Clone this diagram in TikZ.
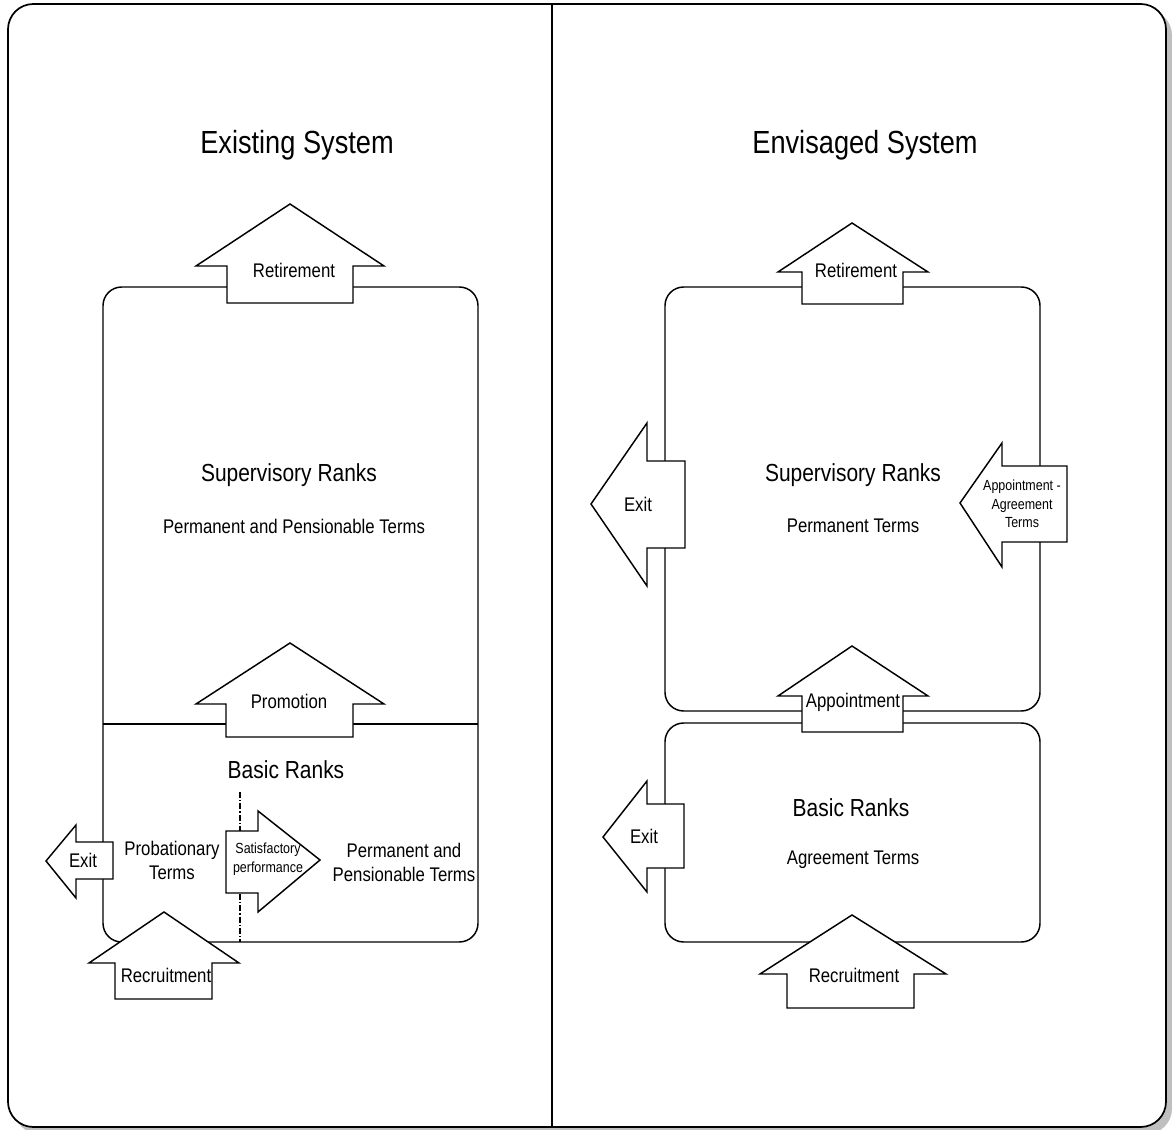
\documentclass[tikz,border=0pt]{standalone}
\usepackage{fontspec}
\setmainfont[FakeStretch=0.85]{Liberation Sans}
\usetikzlibrary{positioning}
\tikzset{frame/.style = {line width=1.3pt, rounded corners=19pt}}
\tikzset{ranks/.style = {line width=1.1pt, rounded corners=14pt}}
\tikzset{blockarr/.style = {draw, fill=white, line width=1.1pt, line join=miter}}
\tikzset{title/.style = {font=\fontsize{24}{29}\selectfont}}
\tikzset{big/.style = {font=\fontsize{18.5}{22}\selectfont}}
\tikzset{lbl/.style = {font=\fontsize{14.8}{18}\selectfont, align=center}}
\tikzset{small/.style = {font=\fontsize{11}{13.9}\selectfont, align=center}}
\definecolor{shadowgray}{rgb}{0.75, 0.75, 0.75}

\begin{document}
\begin{tikzpicture}[x=0.75pt, y=-0.75pt]
      \useasboundingbox (0,0) rectangle (1172,1130);

      % frame
      \fill [shadowgray, rounded corners=19pt] (14,10) rectangle (1172,1134);
      \draw [frame, fill=white] (8,4) rectangle (1166,1127);
      \draw [line width=1.3pt] (552,4) -- (552,1127);

      \node [title] (existing) at (297,145) {Existing System};
      \node [title] (envisaged) at (865,145) {Envisaged System};

      % existing system
      \draw [ranks] (103,287) rectangle (478,942);
      \draw [line width=1.1pt] (103,724) -- (478,724);
      \draw [line width=1pt, dash pattern=on 4.5pt off 1.5pt on 1pt off 1.5pt] (240,792) -- (240,942);

      \draw [blockarr] (290,204) -- (384,266) -- (353,266) -- (353,303) -- (227,303) -- (227,266) -- (196,266) -- cycle;
      \draw [blockarr] (290,643) -- (384,704) -- (353,704) -- (353,737) -- (226,737) -- (226,704) -- (196,704) -- cycle;
      \draw [blockarr] (46,861) -- (76,825) -- (76,842) -- (113,842) -- (113,879) -- (76,879) -- (76,898) -- cycle;
      \draw [blockarr] (226,831) -- (258,831) -- (258,811) -- (320,860) -- (258,912) -- (258,893) -- (226,893) -- cycle;
      \draw [blockarr] (164,912) -- (239,963) -- (212,963) -- (212,999) -- (115,999) -- (115,963) -- (89,963) -- cycle;

      \node [lbl] (retire1) at (294,270) {Retirement};
      \node [big] (super1) at (289,475) {Supervisory Ranks};
      \node [lbl] (perm1) at (294,526) {Permanent and Pensionable Terms};
      \node [lbl] (promo) at (289,701) {Promotion};
      \node [big] (basic1) at (286,770) {Basic Ranks};
      \node [lbl] (prob) at (172,860) {Probationary\\Terms};
      \node [small] (satis) at (268,859) {Satisfactory\\performance};
      \node [lbl] (perm2) at (404,862) {Permanent and\\Pensionable Terms};
      \node [lbl] (exit1) at (83,860) {Exit};
      \node [lbl] (recruit1) at (166,975) {Recruitment};

      % envisaged system
      \draw [ranks] (665,287) rectangle (1040,711);
      \draw [ranks] (665,723) rectangle (1040,942);

      \draw [blockarr] (852,223) -- (928,272) -- (903,272) -- (903,304) -- (802,304) -- (802,272) -- (778,272) -- cycle;
      \draw [blockarr] (591,504) -- (647,423) -- (647,461) -- (685,461) -- (685,548) -- (647,548) -- (647,586) -- cycle;
      \draw [blockarr] (960,503) -- (1002,443) -- (1002,466) -- (1067,466) -- (1067,542) -- (1002,542) -- (1002,567) -- cycle;
      \draw [blockarr] (852,646) -- (928,696) -- (903,696) -- (903,732) -- (802,732) -- (802,696) -- (778,696) -- cycle;
      \draw [blockarr] (603,837) -- (647,781) -- (647,804) -- (684,804) -- (684,868) -- (647,868) -- (647,892) -- cycle;
      \draw [blockarr] (852,915) -- (946,974) -- (914,974) -- (914,1008) -- (787,1008) -- (787,974) -- (760,974) -- cycle;

      \node [lbl] (retire2) at (856,270) {Retirement};
      \node [big] (super2) at (853,475) {Supervisory Ranks};
      \node [lbl] (perm3) at (853,526) {Permanent Terms};
      \node [lbl] (exit2) at (638,504) {Exit};
      \node [small] (apptagree) at (1022,504) {Appointment -\\Agreement\\Terms};
      \node [lbl] (appt) at (853,702) {Appointment};
      \node [big] (basic2) at (851,808) {Basic Ranks};
      \node [lbl] (agree) at (853,860) {Agreement Terms};
      \node [lbl] (exit3) at (644,836) {Exit};
      \node [lbl] (recruit2) at (854,975) {Recruitment};
    \end{tikzpicture}
\end{document}
